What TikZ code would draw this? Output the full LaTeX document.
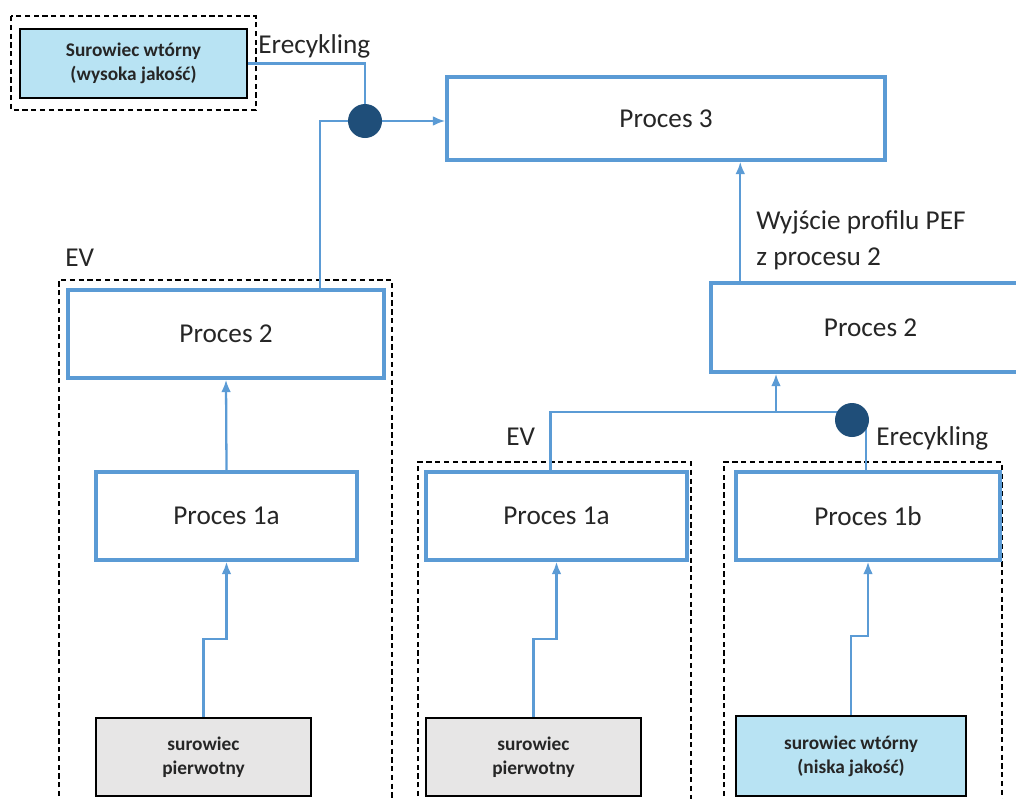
\documentclass[tikz,border=0pt]{standalone}
\usepackage{fontspec}
\setmainfont{Carlito}
\usetikzlibrary{arrows.meta,calc}
\definecolor{linkblue}{HTML}{5B9BD5}
\definecolor{dotblue}{HTML}{1F4E79}
\definecolor{paleblue}{HTML}{B8E3F3}
\definecolor{palegray}{HTML}{E7E6E6}
\definecolor{ink}{HTML}{262626}
\tikzset{>={Latex[length=7pt,width=5.5pt]}}
\tikzset{
	procbox/.style={draw=linkblue,line width=2pt,fill=white,text=ink,inner sep=0pt,font=\fontsize{15.5}{19}\selectfont},
	rawbox/.style={draw=black,line width=1.1pt,text=ink,inner sep=0pt,align=center,font=\bfseries\fontsize{11}{13.8}\selectfont},
	flow/.style={draw=linkblue,line width=1.3pt},
	evframe/.style={draw=black,line width=0.8pt,dash pattern=on 3pt off 2pt},
	lbl/.style={text=ink,inner sep=0pt,anchor=west,align=left,font=\fontsize{15.5}{20.4}\selectfont}
}

\begin{document}
\begin{tikzpicture}[x=0.02cm,y=-0.02cm]
	\useasboundingbox (0,0) rectangle (1016,798);
	\clip (0,0) rectangle (1016,798);

	\draw[evframe] (11,16) rectangle (256,110);
	\draw[evframe] (59,805) -- (59,280) -- (392,280) -- (392,805);
	\draw[evframe] (418,805) -- (418,462) -- (691,462) -- (691,805);
	\draw[evframe] (724,805) -- (724,462) -- (1002,462) -- (1002,805);

	\node[rawbox,fill=paleblue,minimum width=4.54cm,minimum height=1.38cm] (srcHQ) at (133.5,63.5) {Surowiec wtórny\\(wysoka jakość)};
	\node[procbox,minimum width=8.76cm,minimum height=1.66cm] (proc3) at (666,118.5) {Proces 3};
	\node[procbox,minimum width=6.32cm,minimum height=1.76cm] (proc2L) at (226,334) {Proces 2};
	\node[procbox,minimum width=6.38cm,minimum height=1.78cm] (proc2R) at (870.5,327.5) {Proces 2};
	\node[procbox,minimum width=5.22cm,minimum height=1.76cm] (proc1aL) at (226.5,516) {Proces 1a};
	\node[procbox,minimum width=5.22cm,minimum height=1.76cm] (proc1aM) at (556.5,516) {Proces 1a};
	\node[procbox,minimum width=5.28cm,minimum height=1.76cm] (proc1b) at (868,516) {Proces 1b};
	\node[rawbox,fill=palegray,minimum width=4.3cm,minimum height=1.56cm] (rawL) at (203.5,757) {surowiec\\pierwotny};
	\node[rawbox,fill=palegray,minimum width=4.3cm,minimum height=1.56cm] (rawM) at (533.5,757) {surowiec\\pierwotny};
	\node[rawbox,fill=paleblue,minimum width=4.6cm,minimum height=1.6cm] (rawR) at (851,756) {surowiec wtórny\\(niska jakość)};

	\node[lbl] (erecTop) at (258,46) {Erecykling};
	\node[lbl] (erecLow) at (876,438) {Erecykling};
	\node[lbl] (evLeft) at (65,258) {EV};
	\node[lbl] (evMid) at (506,437) {EV};
	\node[lbl] (pefOut) at (756,240) {Wyjście profilu PEF\\z procesu 2};

	\coordinate (mixA) at (365,121);
	\coordinate (mixB) at (852,420);
	\coordinate (jn) at (776,412);

	\draw[flow] (srcHQ.east) -| (mixA);
	\draw[flow] ($(proc2L.north)+(94,0)$) |- (mixA);
	\draw[flow,->] (mixA) -- (mixA -| proc3.west);
	\draw[flow,->] ($(proc2R.north west)+(31,0)$) coordinate (pefFoot) -- (pefFoot |- proc3.south);
	\draw[flow] ($(proc1aM.north)+(-6,0)$) |- (jn) -- (jn -| mixB);
	\draw[flow,->] (jn) -- (jn |- proc2R.south);
	\draw[flow] ($(proc1b.north)+(-2,0)$) |- (mixB);
	\draw[flow,->] (proc1aL.north) -- (proc2L.south);
	\draw[flow,->] (rawL.north) -- ++(0,-78) -| (proc1aL.south);
	\draw[flow,->] (rawM.north) -- ++(0,-78) -| (proc1aM.south);
	\draw[flow,->] (rawR.north) -- ++(0,-79) -| (proc1b.south);

	\fill[dotblue] (mixA) circle (17);
	\fill[dotblue] (mixB) circle (17);
\end{tikzpicture}
\end{document}
